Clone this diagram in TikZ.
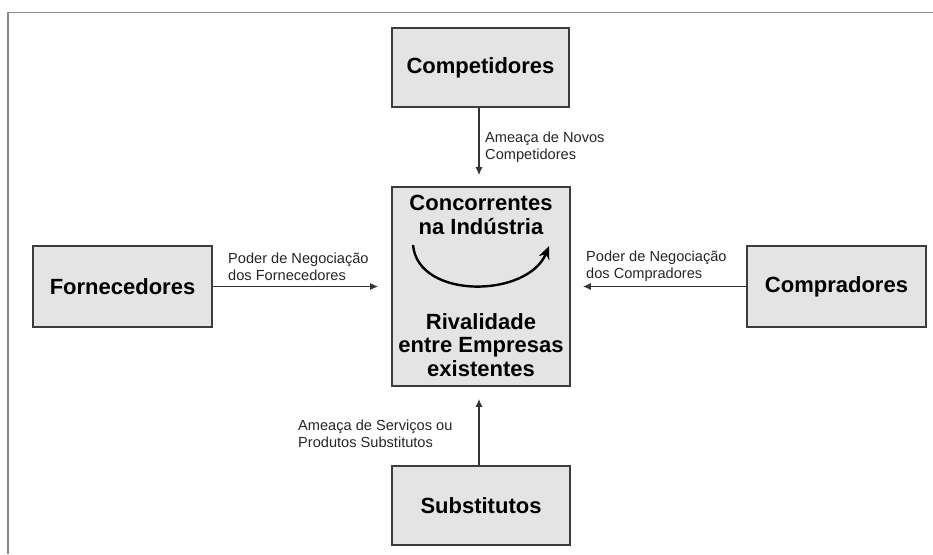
\documentclass[tikz,border=0pt]{standalone}
\usepackage{fontspec}
\setmainfont{Liberation Sans}
\usetikzlibrary{arrows.meta}
\definecolor{boxfill}{HTML}{E4E4E4}
\definecolor{boxline}{HTML}{3C3C3C}
\definecolor{arrline}{HTML}{333333}
\definecolor{framecol}{HTML}{8A8A8A}
\tikzset{
  forcebox/.style={draw=boxline, line width=1.6pt, fill=boxfill, inner sep=0pt,
    font=\fontsize{22}{24}\selectfont\bfseries, align=center},
  bigtext/.style={font=\fontsize{22}{23.5}\selectfont\bfseries, align=center, inner sep=0pt},
  lbl/.style={font=\fontsize{14.6}{17}\selectfont, align=left, inner sep=0pt, text=black!85},
  arr/.style={draw=arrline, line width=1.3pt, -{Latex[length=8pt,width=7pt]}},
}
\begin{document}
\begin{tikzpicture}[x=1pt,y=-1pt]
\useasboundingbox (0,0) rectangle (933,554);
\draw[framecol, line width=1.8pt] (8,554) -- (8,12.5) -- (933,12.5);
\node[forcebox, minimum width=177pt, minimum height=79pt] (comp) at (480.5,67.5) {Competidores};
\node[forcebox, minimum width=178pt, minimum height=199pt] (ctr) at (481,286.5) {};
\node[forcebox, minimum width=179pt, minimum height=81pt] (forn) at (122.5,286.5) {Fornecedores};
\node[forcebox, minimum width=179pt, minimum height=81pt] (compr) at (836.5,286.5) {Compradores};
\node[forcebox, minimum width=178pt, minimum height=79pt] (subst) at (481,505.5) {Substitutos};
\node[bigtext] (t1) at (481,215) {Concorrentes\\na Indústria};
\node[bigtext] (t2) at (481,345) {Rivalidade\\entre Empresas\\existentes};
\coordinate (cs) at (413,245);
\coordinate (ce) at (549,246);
\draw[line width=2.4pt, -{Stealth[length=13pt,width=11pt]}] (cs) .. controls (418,300) and (528,298) .. (ce);
\draw[arr, shorten >=11pt] (comp.south -| 479,0) -- (ctr.north -| 479,0);
\draw[arr, shorten >=13pt] (forn.east) -- (ctr.west);
\draw[arr, shorten >=12pt] (compr.west) -- (ctr.east);
\draw[arr, shorten >=12pt] (subst.north -| 479,0) -- (ctr.south -| 479,0);
\node[lbl, anchor=west] (l1) at (485,147) {Ameaça de Novos\\Competidores};
\node[lbl, anchor=west] (l2) at (228,266.5) {Poder de Negociação\\dos Fornecedores};
\node[lbl, anchor=west] (l3) at (586,266.5) {Poder de Negociação\\dos Compradores};
\node[lbl, anchor=west] (l4) at (298,433.5) {Ameaça de Serviços ou\\Produtos Substitutos};
\end{tikzpicture}
\end{document}
